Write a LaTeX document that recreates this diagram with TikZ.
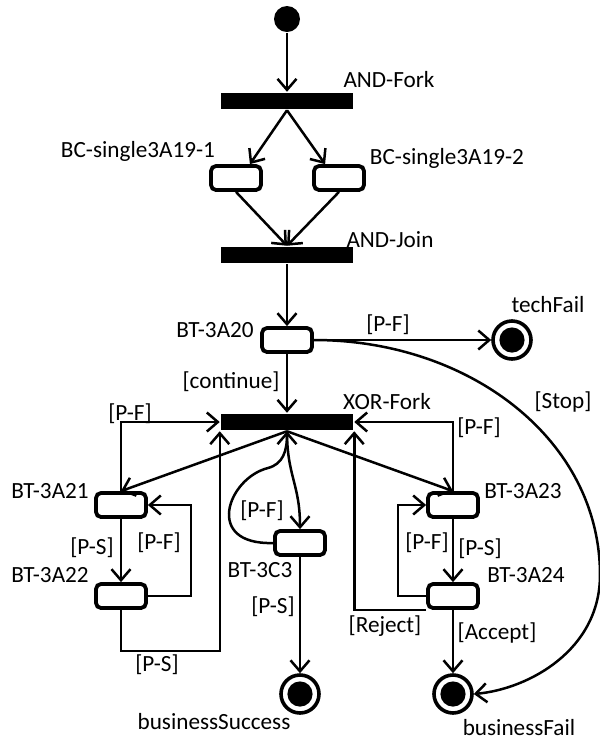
\documentclass[tikz,border=0pt]{standalone}
\usepackage{fontspec}
\setmainfont{Carlito}
\usetikzlibrary{arrows.meta}

\begin{document}
\begin{tikzpicture}[x=0.5pt,y=-0.5pt,line width=1.25pt,>={Straight Barb[length=5.5pt,width=9.5pt]},
        every node/.style={font=\fontsize{11.6}{13}\selectfont,inner sep=0pt},
        act/.style={draw,rounded corners=2.5pt,line width=1.9pt,minimum width=25pt,minimum height=12pt,fill=white},
        bar/.style={fill=black,minimum width=66pt,minimum height=8pt},
        startdot/.style={circle,fill=black,minimum size=13pt},
        enddot/.style={circle,draw,line width=1.8pt,minimum size=19pt,
            path picture={\fill (path picture bounding box.center) circle (6.3pt);}}]
        \useasboundingbox (0,0) rectangle (600,741);

        \node[startdot] (start) at (287,19) {};
        \node[bar] (andfork) at (287,101) {};
        \node[act] (bc1) at (236,178) {};
        \node[act] (bc2) at (339,178) {};
        \node[bar] (andjoin) at (287,255) {};
        \node[act] (bt20) at (287,340) {};
        \node[enddot] (techfail) at (512,340) {};
        \node[bar] (xorfork) at (287,422) {};
        \node[act] (bt21) at (121,505) {};
        \node[act] (bt22) at (121,596) {};
        \node[act] (bt3c3) at (300,543) {};
        \node[act] (bt23) at (453,505) {};
        \node[act] (bt24) at (453,596) {};
        \node[enddot] (bsuccess) at (300,694) {};
        \node[enddot] (bfail) at (453,694) {};

        \foreach \x/\y/\name/\txt in {389/80/andforklbl/AND-Fork, 138/151/bc1lbl/BC-single3A19-1,
            447/158/bc2lbl/BC-single3A19-2, 390/240/andjoinlbl/AND-Join, 215/330/bt20lbl/BT-3A20,
            548/305/techfaillbl/techFail, 387/402/xorforklbl/XOR-Fork, 50/491/bt21lbl/BT-3A21,
            50/575/bt22lbl/BT-3A22, 260/570/bt3c3lbl/BT-3C3, 523/491/bt23lbl/BT-3A23,
            526/575/bt24lbl/BT-3A24, 214/722/bsuccesslbl/businessSuccess, 519/728/bfaillbl/businessFail}
        \node (\name) at (\x,\y) {\txt};

        \foreach \x/\y/\name/\txt in {388/325/pfa/[P-F], 563/402/stop/[Stop], 231/382/cont/[continue],
            130/414/pfb/[P-F], 479/428/pfc/[P-F], 92/548/psa/[P-S], 159/543/pfd/[P-F],
            157/665/psb/[P-S], 262/511/pfe/[P-F], 273/607/psc/[P-S], 427/543/pff/[P-F],
            480/549/psd/[P-S], 385/626/reject/[Reject], 497/633/accept/[Accept]}
        \node (\name) at (\x,\y) {\txt};

        \draw[->] (start) -- (andfork);
        \draw[->] (andfork.south) -- (bc1.45);
        \draw[->] (andfork.south) -- (bc2.135);
        \draw[->] (bc1.south) -- (andjoin.north);
        \draw[->] (bc2.south) -- (andjoin.north);
        \draw[->] (andjoin) -- (bt20);
        \draw[->] (bt20) -- (techfail);
        \coordinate (stopbend) at (600,575);
        \draw[->] (bt20.east) .. controls +(156,0) and +(0,-135) .. (stopbend)
            .. controls +(0,75) and +(55,-5) .. (bfail.east);
        \draw[->] (bt20) -- (xorfork);
        \draw[->] (xorfork.south) -- (bt21.north);
        \draw[->] (bt21.north) |- (xorfork.west);
        \draw[->] (xorfork.south) -- (bt23.north);
        \draw[->] (bt23.north) |- (xorfork.east);
        \draw[->] (bt21) -- (bt22);
        \draw[->] (bt22.east) -- ++(43,0) |- (bt21.east);
        \draw[->] (bt22.south) -- ++(0,41) -| (xorfork.south west);
        \draw[->] (xorfork.south) .. controls +(0,45) and +(0,-45) .. (bt3c3.north);
        \coordinate (loopc) at (268,468);
        \draw[->] (bt3c3.west) .. controls +(-70,2) and +(-40,10) .. (loopc)
            .. controls +(15,-4) and +(0,20) .. (xorfork.south);
        \draw[->] (bt3c3) -- (bsuccess);
        \draw[->] (bt23) -- (bt24);
        \draw[->] (bt24.west) -- ++(-28,0) |- (bt23.west);
        \draw[->] (bt24.south west) -| (xorfork.south east);
        \draw[->] (bt24) -- (bfail);
    \end{tikzpicture}
\end{document}
